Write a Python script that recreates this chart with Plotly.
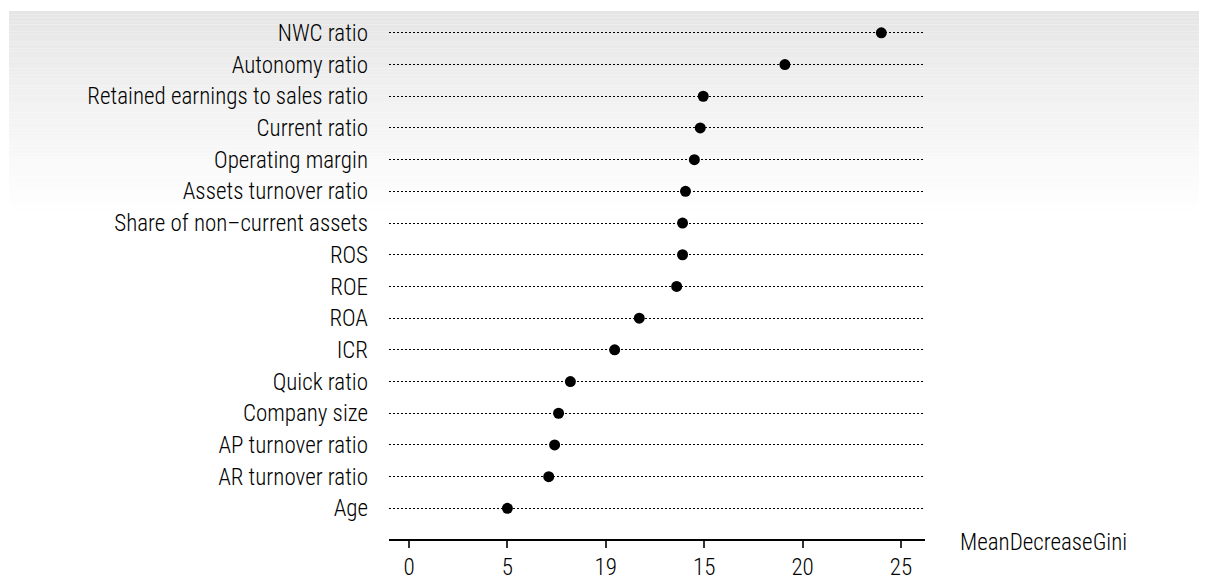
import plotly.graph_objects as go

categories = ["NWC ratio", "Autonomy ratio", "Retained earnings to sales ratio",
              "Current ratio", "Operating margin", "Assets turnover ratio",
              "Share of non\u2013current assets", "ROS", "ROE", "ROA", "ICR",
              "Quick ratio", "Company size", "AP turnover ratio",
              "AR turnover ratio", "Age"]
values = [24.0, 19.1, 14.95, 14.8, 14.5, 14.05, 13.9, 13.9, 13.6, 11.7,
          10.45, 8.2, 7.6, 7.4, 7.1, 5.0]
tick_vals = [0, 5, 10, 15, 20, 25]
tick_text = ["0", "5", "19", "15", "20", "25"]
x_label = "MeanDecreaseGini"

FONT = "Roboto Condensed, Liberation Sans Narrow, Arial Narrow, sans-serif"
FS = 23
FW = 300
OFF = 8  # page body margin
W, H = 1207, 582
ML, MT = 389 - OFF, 17 - OFF
MR = W - (925 - OFF)
MB = H - (545 - OFF)
pw, ph = W - ML - MR, H - MT - MB

fig = go.Figure()
fig.add_trace(go.Scatter(
    x=values, y=categories, mode="markers",
    marker=dict(color="black", size=11),
    hoverinfo="x+y", showlegend=False, cliponaxis=False,
))

shapes = []
n = 60
top_py, bot_py, left_px = 11 - OFF, 216 - OFF, 9 - OFF
for i in range(n):
    t0 = i / n
    t1 = (i + 1) / n
    py0 = top_py + (bot_py - top_py) * t0
    py1 = top_py + (bot_py - top_py) * t1
    c = int(round(229 + (255 - 229) * (t0 ** 0.9)))
    shapes.append(dict(
        type="rect", xref="paper", yref="paper", layer="below",
        x0=(left_px - ML) / pw, x1=(W + OFF - ML) / pw,
        y0=(H - MB - py1) / ph, y1=(H - MB - py0) / ph,
        line=dict(width=0), fillcolor=f"rgb({c},{c},{c})",
    ))

px_per_unit = 19.68
x0 = (389 - 409) / px_per_unit
x1 = x0 + pw / px_per_unit
row = 32.07
ybot = -(545 - 514) / row

font = dict(family=FONT, size=FS, color="black", weight=FW)

fig.update_layout(
    width=W, height=H,
    margin=dict(l=ML, r=MR, t=MT, b=MB, pad=0),
    paper_bgcolor="white", plot_bgcolor="rgba(0,0,0,0)",
    font=font,
    shapes=shapes,
    xaxis=dict(
        range=[x0, x1], tickvals=tick_vals, ticktext=tick_text,
        showline=True, linecolor="black", linewidth=1.6,
        ticks="outside", ticklen=7, tickwidth=1.6, tickcolor="#333333",
        showgrid=False, zeroline=False,
        tickfont=font,
    ),
    yaxis=dict(
        type="category", categoryorder="array",
        categoryarray=list(reversed(categories)),
        range=[ybot, len(categories) - 0.5],
        showgrid=True, gridcolor="black", gridwidth=1.3, griddash="1.5px,2.5px",
        showline=False, zeroline=False, ticks="",
        ticklabelstandoff=20,
        tickfont=font,
    ),
    annotations=[dict(
        text=x_label, xref="paper", yref="paper",
        x=(958 - OFF - ML) / pw, y=(H - MB - (549 - OFF)) / ph,
        xanchor="left", yanchor="middle", showarrow=False,
        font=font,
    )],
)

fig.write_html("out.html")
